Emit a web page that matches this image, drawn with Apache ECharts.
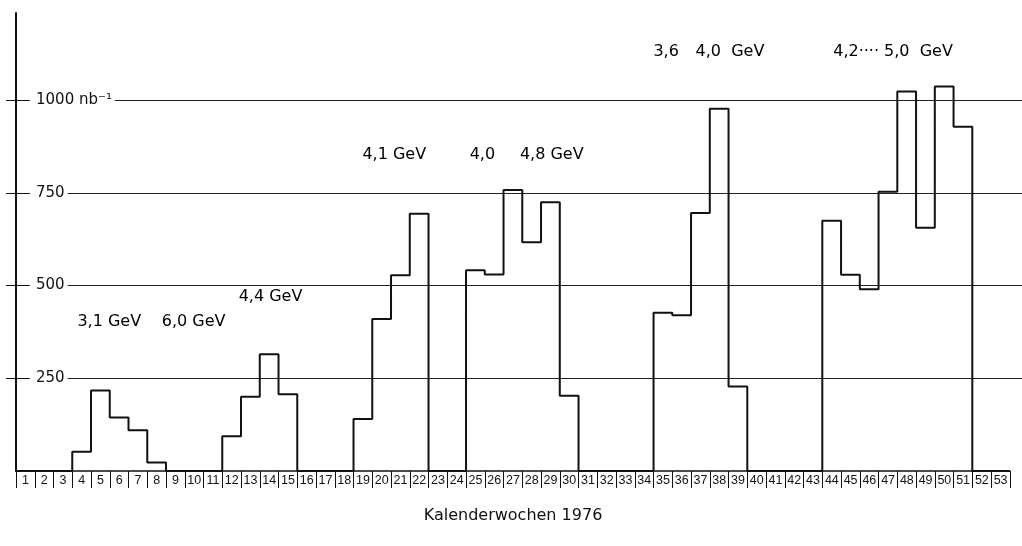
<!DOCTYPE html>
<html>
<head>
<meta charset="utf-8">
<script src="https://cdn.jsdelivr.net/npm/echarts@6/dist/echarts.min.js"></script>
<style>
html,body{margin:0;padding:0;background:#fff;}
#chart{width:1022px;height:546px;}
</style>
</head>
<body>
<div id="chart"></div>
<script>
// Calendar weeks (tick labels)
const weekLabels = ['1','2','3','4','5','6','7','8','9','10','11','12','13','14','15','16','17','18','19','20',
  '21','22','23','24','25','26','27','28','29','30','31','32','33','34','35','36','37','38','39','40',
  '41','42','43','44','45','46','47','48','49','50','51','52','53'];
// Integrated luminosity per week (nb^-1)
const lumi = [0,0,0,52,217,144,110,23,0,0,0,94,200,315,207,0,0,0,140,410,528,694,0,0,
  541,530,758,617,725,203,0,0,0,0,427,420,696,977,228,0,0,0,0,675,529,490,753,1023,656,1037,928,0,0];
// Y tick values and labels
const yTicks = [250,500,750,1000];
const yTickLabels = {250:'250',500:'500',750:'750',1000:'1000 nb⁻¹'};
// Beam energy annotations: text, week position, luminosity level
const annotTexts = ['3,1 GeV','6,0 GeV','4,4 GeV','4,1 GeV','4,0','4,8 GeV','3,6','4,0  GeV','4,2···· 5,0  GeV'];
const annotWeeks = [6.0, 10.5, 14.6, 21.2, 25.9, 29.6, 35.7, 39.1, 47.8];
const annotLevels = [402, 402, 467, 850, 850, 850, 1130, 1130, 1130];
const xTitle = 'Kalenderwochen 1976';

// build step points: week k occupies [k, k+1)
const stepData = lumi.map((v, i) => [Number(weekLabels[i]), v]);
stepData.push([Number(weekLabels[weekLabels.length - 1]) + 1, 0]);
const annotData = annotTexts.map((t, i) => ({
  value: [annotWeeks[i], annotLevels[i]],
  label: {formatter: t}
}));

const FONT = 'DejaVu Sans';
const chart = echarts.init(document.getElementById('chart'), null, {renderer: 'canvas'});
chart.setOption({
  animation: false,
  backgroundColor: '#fff',
  grid: [
    {left: 16, right: 0, top: 13, bottom: 75, containLabel: false},
    {left: 16, right: 12, top: 13, bottom: 75, containLabel: false}
  ],
  xAxis: [
    {gridIndex: 0, type: 'value', min: 1, max: 54.65, show: false},
    {gridIndex: 1, type: 'category', data: weekLabels, boundaryGap: true, position: 'bottom',
      axisLine: {show: true, lineStyle: {color: '#111', width: 1.5}},
      axisTick: {show: true, interval: 0, length: 17, alignWithLabel: false, lineStyle: {color: '#111', width: 1}},
      axisLabel: {show: true, interval: 0, margin: 3, fontSize: 12.5, color: '#111', fontFamily: 'Liberation Sans'},
      splitLine: {show: false},
      name: xTitle, nameLocation: 'middle', nameGap: 37,
      nameTextStyle: {fontSize: 16, color: '#111', fontFamily: FONT}
    }
  ],
  yAxis: [
    {gridIndex: 0, type: 'value', min: 0, max: 1235, interval: 250, position: 'left',
      axisLine: {show: true, lineStyle: {color: '#111', width: 2}},
      axisTick: {show: true, inside: false, length: 10, customValues: yTicks, lineStyle: {color: '#111', width: 1}},
      axisLabel: {show: true, inside: true, margin: 14, customValues: yTicks,
        formatter: v => yTickLabels[v] || '',
        fontSize: 15, color: '#111', fontFamily: FONT,
        backgroundColor: '#fff', padding: [2, 3, 2, 6]},
      splitLine: {show: true, lineStyle: {color: '#222', width: 1}}
    },
    {gridIndex: 0, type: 'value', min: 0, max: 1235, interval: 250, position: 'left',
      axisLine: {show: false},
      axisTick: {show: true, inside: true, length: 12, customValues: yTicks, lineStyle: {color: '#111', width: 1}},
      axisLabel: {show: false},
      splitLine: {show: false}
    },
    {gridIndex: 1, type: 'value', min: 0, max: 1, show: false}
  ],
  series: [
    {
      type: 'line', xAxisIndex: 0, yAxisIndex: 0, data: stepData, step: 'end',
      showSymbol: false, symbol: 'none',
      lineStyle: {color: '#111', width: 2},
      z: 5
    },
    {
      type: 'scatter', xAxisIndex: 0, yAxisIndex: 0, data: annotData,
      symbolSize: 1, itemStyle: {color: '#fff', opacity: 1},
      label: {show: true, position: [0, 0], align: 'center', verticalAlign: 'middle',
        fontSize: 16, color: '#000', opacity: 1, fontFamily: FONT},
      emphasis: {disabled: true},
      z: 6
    }
  ]
});
</script>
</body>
</html>
